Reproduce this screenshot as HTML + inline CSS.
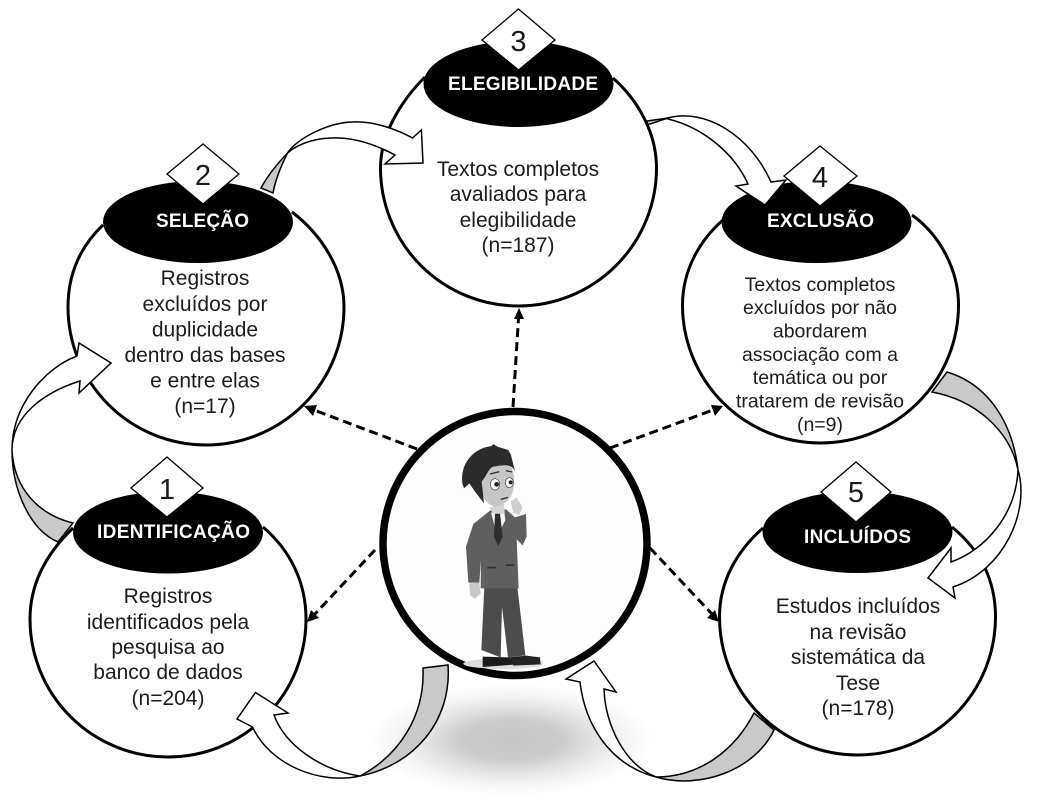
<!DOCTYPE html>
<html lang="pt">
<head>
<meta charset="utf-8">
<style>
html,body{margin:0;padding:0;background:#fff;width:1044px;height:808px;overflow:hidden}
svg{display:block}
text{font-family:"Liberation Sans",sans-serif;text-anchor:middle}
.b{font-size:21px;fill:#1c1c1c}
.b4{font-size:19.5px;fill:#1c1c1c}
.h{font-size:19px;font-weight:bold;fill:#fff;text-anchor:start}
.n{font-size:29px;fill:#1a1a1a}
.c{fill:#fff;stroke:#000;stroke-width:3}
.a{fill:#fff;stroke:#000;stroke-width:1.5;stroke-linejoin:miter}
.g{fill:#c9c9c9;stroke:#000;stroke-width:1.5}
.d{fill:#fff;stroke:#000;stroke-width:1.3}
.l{stroke:#000;stroke-width:3;stroke-dasharray:9 5;fill:none}
</style>
</head>
<body>
<svg width="1044" height="808" viewBox="0 0 1044 808" xmlns="http://www.w3.org/2000/svg">
<defs>
<radialGradient id="sh">
<stop offset="0" stop-color="#c6c6c6"/>
<stop offset=".35" stop-color="#cbcbcb"/>
<stop offset=".6" stop-color="#e4e4e4"/>
<stop offset=".8" stop-color="#f5f5f5"/>
<stop offset="1" stop-color="#fff"/>
</radialGradient>
</defs>

<ellipse cx="511" cy="740" rx="142" ry="56" fill="url(#sh)"/>

<!-- grey arrow tails -->
<path class="g" d="M73 523C40 515 14 490 12 450C12 490 30 530 58 542Z"/>
<path class="g" d="M261 188C268 175 278 163 287.5 153C280 168 275 182 273 193Z"/>
<path class="g" d="M647 121L668 118L647 125Z"/>
<path class="g" d="M947 372C990 385 1013 425 1018 470C1010 430 975 400 932 392Z"/>
<path class="g" d="M754 713C735 750 700 777 656 777C700 790 755 770 774 730Z"/>
<path class="g" d="M423 668L448 665C452 720 415 765 360 776C400 755 425 715 423 668Z"/>

<!-- circles: arcs end at the header ellipse -->
<path class="c" d="M73 528C48 552 30 582 30 619A138 138 0 0 0 306 619C306 582 290 550 263 527"/>
<path class="c" d="M103 225C82 245 68 272 68 307A138 138 0 0 0 344 307C344 270 322 235 292 212"/>
<path class="c" d="M425 77C400 102 380.5 135 380.5 168A138 138 0 0 0 656.5 168C656.5 135 640 102 613 78"/>
<path class="c" d="M723 220C700 240 682.5 270 682.5 305A138 138 0 0 0 958.5 305C958.5 270 940 235 912 215"/>
<path class="c" d="M763 528C738 550 719.5 580 719.5 617A138 138 0 0 0 995.5 617C995.5 580 980 550 952 527"/>

<!-- dashed connectors -->
<path class="l" d="M513 407L518.5 318"/>
<path class="l" d="M417 449L314 410"/>
<path class="l" d="M375 550L314 615"/>
<path class="l" d="M610 448L713 410"/>
<path class="l" d="M650 548L712 614"/>
<path d="M519 308L524 319L514 319Z"/>
<path d="M304 406L317 405L313 416Z"/>
<path d="M307 622L311 610L319 618Z"/>
<path d="M723 406L715 416L711 405Z"/>
<path d="M719 622L707 618L715 610Z"/>

<!-- central circle -->
<circle cx="515" cy="543.5" r="132" fill="#fdfdfd" stroke="#000" stroke-width="7.5"/>

<!-- man -->
<g transform="translate(380 420) scale(.33333)">
<ellipse cx="370" cy="731" rx="120" ry="16" fill="#dcdcdc"/>
<path d="M268 490L298 488L302 520L284 537L270 525Z" fill="#c8c8c8"/>
<path d="M313 500L304 690L362 712L366 560L384 712L436 706L412 500Z" fill="#4c4c4c"/>
<path d="M308 710L385 712L412 733L308 741Z" fill="#1c1c1c"/>
<path d="M385 712L438 707L480 712L482 733L400 737Z" fill="#232323"/>
<path d="M330 272L280 312L258 380L265 488L298 488L303 420L302 505L416 505L410 358L428 376L440 350L438 282L405 292L378 268Z" fill="#5f5f5f"/>
<path d="M333 278L352 350L376 300L372 268Z" fill="#f4f4f4"/>
<path d="M345 280L360 280L368 350L355 378L342 350Z" fill="#2e2e2e"/>
<path d="M322 440h26v5h-26zM378 433h24v5h-24z" fill="#333"/>
<path d="M328 262L372 250L374 280L340 282Z" fill="#d4d4d4"/>
<path d="M300 190C300 150 330 125 370 125C402 130 406 170 400 210C390 250 350 272 325 250C310 235 300 215 300 190Z" fill="#c6c6c6"/>
<path d="M247 190C240 130 280 85 335 78L340 72L352 80L385 90L393 105L405 155C395 130 375 135 340 140C325 145 322 165 305 185L312 250L285 215L268 190L252 205Z" fill="#2b2b2b"/>
<ellipse cx="345" cy="193" rx="14" ry="17" fill="#fff" stroke="#333" stroke-width="2"/>
<ellipse cx="388" cy="188" rx="12" ry="15" fill="#fff" stroke="#333" stroke-width="2"/>
<circle cx="350" cy="193" r="7" fill="#222"/>
<circle cx="392" cy="187" r="6" fill="#222"/>
<path d="M330 162L358 155M378 152L396 156M362 238L384 232" stroke="#333" stroke-width="4" fill="none"/>
<path d="M392 245L410 232L428 262L418 285L400 278Z" fill="#cfcfcf"/>
</g>

<!-- header ellipses -->
<ellipse cx="168" cy="532.5" rx="95" ry="41"/>
<ellipse cx="198" cy="222" rx="95" ry="41"/>
<ellipse cx="518.5" cy="84" rx="95" ry="43"/>
<ellipse cx="816.5" cy="222" rx="95" ry="41"/>
<ellipse cx="857.5" cy="532" rx="95" ry="41"/>

<!-- white curved arrows -->
<path class="a" d="M12 450C12 405 45 368 77 356L79 343L111 363L79 393L80 381C45 392 12 415 12 450Z"/>
<path class="a" d="M287.5 153C297 138 330 122 353 122C375 121 398 130 412.5 138L421.4 130L423 163L385 164L395 155C380 147 360 139 340 138C320 137 300 142 287.5 153Z"/>
<path class="a" d="M668 118C705 108 750 135 771 182L786 180L765 205L736 186L748 184C735 155 705 128 668 119Z"/>
<path class="a" d="M1018 470C1030 510 1005 570 953 587L955 598L928 578L951 548L951 562C985 550 1016 515 1018 470Z"/>
<path class="a" d="M656 777C610 765 585 725 580 682L566 679L594 661L616 692L604 689C605 725 625 765 656 777Z"/>
<path class="a" d="M360 776C320 785 270 765 252.5 727L237 719L255.5 692.5L288 713L274 715C285 745 320 770 360 776Z"/>

<!-- diamonds -->
<path class="d" d="M167 457L203 488L167 517L131 488Z"/>
<path class="d" d="M203 144L239 174L203 204L167 174Z"/>
<path class="d" d="M518.5 9L555 40L518.5 70L482 40Z"/>
<path class="d" d="M820 146L857 176L820 206L784 176Z"/>
<path class="d" d="M856 462L891 492L856 522L821 492Z"/>
<text class="n" x="167" y="499">1</text>
<text class="n" x="203" y="185">2</text>
<text class="n" x="518.5" y="51">3</text>
<text class="n" x="820" y="187">4</text>
<text class="n" x="856" y="502">5</text>

<!-- header labels -->
<text class="h" x="97" y="538" textLength="153" lengthAdjust="spacing">IDENTIFICAÇÃO</text>
<text class="h" x="156" y="227" textLength="93" lengthAdjust="spacing">SELEÇÃO</text>
<text class="h" x="448" y="90" textLength="150" lengthAdjust="spacing">ELEGIBILIDADE</text>
<text class="h" x="767" y="227" textLength="107" lengthAdjust="spacing">EXCLUSÃO</text>
<text class="h" x="804" y="543" textLength="107" lengthAdjust="spacing">INCLUÍDOS</text>

<!-- body text -->
<g class="b">
<text x="168" y="603">Registros</text>
<text x="168" y="629">identificados pela</text>
<text x="168" y="654">pesquisa ao</text>
<text x="168" y="679">banco de dados</text>
<text x="168" y="705">(n=204)</text>

<text x="205" y="285">Registros</text>
<text x="205" y="311">excluídos por</text>
<text x="205" y="336.5">duplicidade</text>
<text x="205" y="362">dentro das bases</text>
<text x="205" y="387.5">e entre elas</text>
<text x="205" y="413">(n=17)</text>

<text x="518" y="176">Textos completos</text>
<text x="518" y="201">avaliados para</text>
<text x="518" y="227">elegibilidade</text>
<text x="518" y="252">(n=187)</text>

<text x="858" y="613">Estudos incluídos</text>
<text x="858" y="639">na revisão</text>
<text x="858" y="664">sistemática da</text>
<text x="858" y="690">Tese</text>
<text x="858" y="715">(n=178)</text>
</g>
<g class="b4">
<text x="820" y="291">Textos completos</text>
<text x="820" y="314">excluídos por não</text>
<text x="820" y="337.5">abordarem</text>
<text x="820" y="361">associação com a</text>
<text x="820" y="384">temática ou por</text>
<text x="820" y="407.5">tratarem de revisão</text>
<text x="820" y="431">(n=9)</text>
</g>
</svg>
</body>
</html>
